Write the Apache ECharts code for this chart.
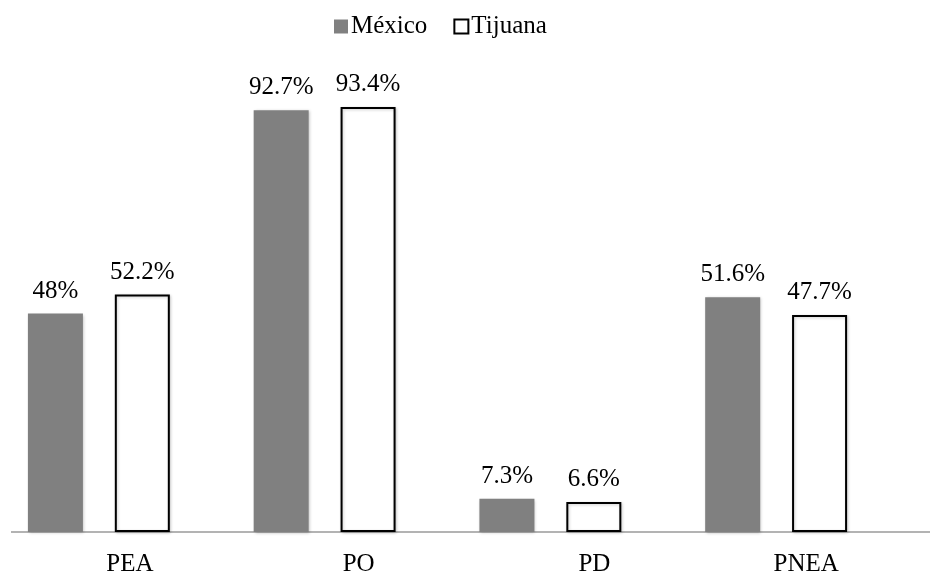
<!DOCTYPE html>
<html>
<head>
<meta charset="utf-8">
<script src="https://cdn.jsdelivr.net/npm/echarts@6/dist/echarts.min.js"></script>
<style>
  html, body { margin: 0; padding: 0; background: #fff; }
  #chart { width: 930px; height: 573px; }
</style>
</head>
<body>
<div id="chart"></div>
<script>
// Population indicators (%), México vs Tijuana
const categories = ['PEA', 'PO', 'PD', 'PNEA'];
const mexico = [48, 92.7, 7.3, 51.6];
const tijuana = [52.2, 93.4, 6.6, 47.7];
const seriesNames = ['México', 'Tijuana'];

const FONT = '"Liberation Serif", "Times New Roman", serif';
// horizontal nudge of each category label to the right of its bar pair
const labelShift = [31, 34, 44, 30];

const chart = echarts.init(document.getElementById('chart'));

function fmt(v) {
  return String(v) + '%';
}

const valueLabel = {
  show: true,
  position: 'top',
  distance: 10,
  fontFamily: FONT,
  fontSize: 25,
  color: '#000',
  formatter: p => fmt(p.value)
};

chart.setOption({
  animation: false,
  backgroundColor: '#fff',
  legend: {
    left: 329,
    top: 9,
    itemWidth: 14,
    itemHeight: 14,
    itemGap: 26,
    icon: 'rect',
    textStyle: { fontFamily: FONT, fontSize: 25, color: '#000', padding: [0, 0, 0, -2] },
    data: [
      { name: seriesNames[0], itemStyle: { color: '#808080', borderWidth: 0 } },
      { name: seriesNames[1], itemStyle: { color: '#fff', borderColor: '#000', borderWidth: 2 } }
    ]
  },
  grid: { left: -14, right: 41, top: 77, bottom: 41, containLabel: false, outerBoundsMode: 'none' },
  xAxis: {
    type: 'category',
    data: categories.map((c, i) => ({
      value: c,
      textStyle: { padding: [0, 0, 0, labelShift[i] * 2] }
    })),
    axisLine: { show: false },
    axisTick: { show: false },
    axisLabel: {
      fontFamily: FONT,
      fontSize: 25,
      color: '#000',
      margin: 20,
      interval: 0
    }
  },
  yAxis: {
    type: 'value',
    min: 0,
    max: 100,
    show: false,
    splitLine: { show: false }
  },
  graphic: [{
    type: 'line',
    z: 0,
    shape: { x1: 11, y1: 532, x2: 930, y2: 532 },
    style: { stroke: '#9a9a9a', lineWidth: 1.5 }
  }],
  series: [
    {
      name: seriesNames[0],
      type: 'bar',
      data: mexico,
      barWidth: 55,
      barGap: '58%',
      itemStyle: {
        color: '#808080',
        shadowColor: 'rgba(0,0,0,0.25)',
        shadowBlur: 3,
        shadowOffsetX: 1,
        shadowOffsetY: 1
      },
      label: valueLabel,
      z: 2
    },
    {
      name: seriesNames[1],
      type: 'bar',
      data: tijuana,
      barWidth: 55,
      itemStyle: {
        color: '#fff',
        borderColor: '#000',
        borderWidth: 2,
        shadowColor: 'rgba(0,0,0,0.2)',
        shadowBlur: 3,
        shadowOffsetX: 1,
        shadowOffsetY: 1
      },
      label: valueLabel,
      z: 2
    }
  ]
});
</script>
</body>
</html>
